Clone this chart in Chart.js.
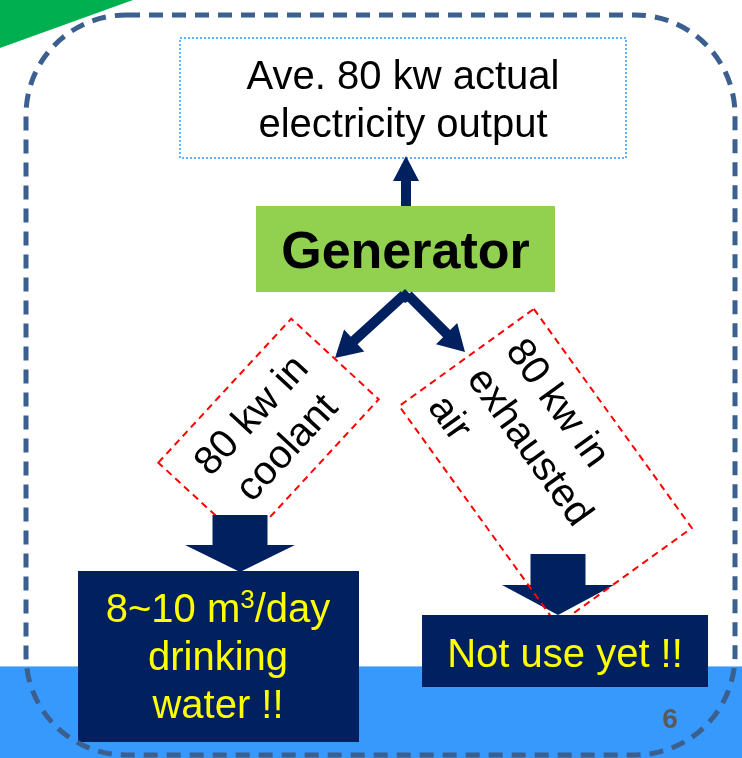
<!DOCTYPE html>
<html>
<head>
<meta charset="utf-8">
<script src="https://cdn.jsdelivr.net/npm/chart.js@4/dist/chart.umd.min.js"></script>
<style>
  html, body { margin: 0; padding: 0; background: #ffffff; }
  #c { display: block; }
</style>
</head>
<body>
<canvas id="c" width="742" height="758"></canvas>
<script>
// ---- Diagram content (text values) ----
const outputText   = ['Ave. 80 kw actual', 'electricity output'];
const generatorText = ['Generator'];
const coolantText  = ['80 kw in', 'coolant'];
const exhaustText  = ['80 kw in', 'exhausted', 'air'];
const waterText    = ['8~10 m', '3', '/day', 'drinking', 'water !!'];
const unusedText   = ['Not use yet !!'];
const pageNumber   = ['6'];

// ---- Layout (positions in the 742 x 758 value space) ----
const L = {
  band: { y0: 666, y1: 758 },
  tri: [[0, 0], [133, 0], [0, 48]],
  border: { x0: 26, y0: 15, x1: 735, y1: 755, r: 100 },
  outBox: { x0: 180, y0: 38, x1: 626, y1: 158 },
  outBase: [89, 137], outCx: 403,
  upArrow: { x: 406, y0: 206, y1: 156 },
  gen: { x0: 256, y0: 206, x1: 555, y1: 292, base: 268 },
  leftArrow: { from: [404, 295], to: [335, 358] },
  rightArrow: { from: [408, 295], to: [465, 352] },
  coolBox: { cx: 268.5, cy: 431, w: 196, h: 119, a: -47.3 },
  exhBox: { cx: 545.5, cy: 467, w: 270, h: 166, a: 54.2 },
  downL: { cx: 240, sw: 55, hw: 110, y0: 515, y1: 545, tip: 572 },
  downR: { cx: 558, sw: 55, hw: 112, y0: 554, y1: 585, tip: 615 },
  waterBox: { x0: 78, y0: 571, x1: 359, y1: 742, cx: 218, base: [622, 670, 718] },
  unusedBox: { x0: 422, y0: 615, x1: 708, y1: 687, cx: 565, base: 667 },
  page: { x: 670, base: 728 }
};

const NAVY = '#002060';
const FONT = '"Liberation Sans", Arial, "DejaVu Sans", sans-serif';

const diagramPlugin = {
  id: 'diagram',
  afterDraw(chart) {
    const ctx = chart.ctx;
    const xs = chart.scales.x, ys = chart.scales.y;
    const X = v => xs.getPixelForValue(v);
    const Y = v => ys.getPixelForValue(v);
    const S = d => X(d) - X(0);

    ctx.save();
    // white background
    ctx.fillStyle = '#ffffff';
    ctx.fillRect(X(0), Y(0), S(742), Y(758) - Y(0));

    // green corner triangle
    ctx.fillStyle = '#00B050';
    ctx.beginPath();
    L.tri.forEach((p, i) => i ? ctx.lineTo(X(p[0]), Y(p[1])) : ctx.moveTo(X(p[0]), Y(p[1])));
    ctx.closePath(); ctx.fill();

    // blue band
    ctx.fillStyle = '#3899FD';
    ctx.fillRect(X(0), Y(L.band.y0), S(742), Y(L.band.y1) - Y(L.band.y0));
    ctx.fillStyle = '#8cc4f7';
    ctx.fillRect(X(0), Y(L.band.y0), S(742), 1);

    // top dotted output box
    const ob = L.outBox;
    ctx.strokeStyle = '#3399FF'; ctx.lineWidth = 1.5; ctx.setLineDash([2, 2]);
    ctx.strokeRect(X(ob.x0), Y(ob.y0), X(ob.x1) - X(ob.x0), Y(ob.y1) - Y(ob.y0));
    ctx.setLineDash([]);
    ctx.fillStyle = '#000'; ctx.font = '40px ' + FONT; ctx.textAlign = 'center'; ctx.textBaseline = 'alphabetic';
    outputText.forEach((t, i) => ctx.fillText(t, X(L.outCx), Y(L.outBase[i])));

    // up arrow
    const ua = L.upArrow;
    ctx.fillStyle = NAVY;
    ctx.fillRect(X(ua.x - 5), Y(180), S(10), Y(ua.y0) - Y(180));
    ctx.beginPath();
    ctx.moveTo(X(ua.x), Y(ua.y1)); ctx.lineTo(X(ua.x + 13), Y(181)); ctx.lineTo(X(ua.x - 13), Y(181));
    ctx.closePath(); ctx.fill();

    // generator box
    const g = L.gen;
    ctx.fillStyle = '#92D050';
    ctx.fillRect(X(g.x0), Y(g.y0), X(g.x1) - X(g.x0), Y(g.y1) - Y(g.y0));
    ctx.fillStyle = '#000'; ctx.font = 'bold 52px ' + FONT;
    ctx.fillText(generatorText[0], X((g.x0 + g.x1) / 2), Y(g.base));

    // diagonal arrow helper
    function arrow(from, to, sw, hw, hl) {
      const fx = X(from[0]), fy = Y(from[1]), tx = X(to[0]), ty = Y(to[1]);
      const dx = tx - fx, dy = ty - fy, len = Math.hypot(dx, dy);
      const ux = dx / len, uy = dy / len, px = -uy, py = ux;
      const bx = tx - ux * hl, by = ty - uy * hl;
      ctx.fillStyle = NAVY;
      ctx.beginPath();
      ctx.moveTo(fx + px * sw / 2, fy + py * sw / 2);
      ctx.lineTo(bx + px * sw / 2, by + py * sw / 2);
      ctx.lineTo(bx + px * hw / 2, by + py * hw / 2);
      ctx.lineTo(tx, ty);
      ctx.lineTo(bx - px * hw / 2, by - py * hw / 2);
      ctx.lineTo(bx - px * sw / 2, by - py * sw / 2);
      ctx.lineTo(fx - px * sw / 2, fy - py * sw / 2);
      ctx.closePath(); ctx.fill();
    }
    arrow(L.leftArrow.from, L.leftArrow.to, 10, 30, 26);
    arrow(L.rightArrow.from, L.rightArrow.to, 10, 30, 26);
    // join at apex
    ctx.beginPath();
    ctx.moveTo(X(397), Y(297)); ctx.lineTo(X(405), Y(289)); ctx.lineTo(X(414), Y(298)); ctx.lineTo(X(405), Y(303));
    ctx.closePath(); ctx.fill();

    // rotated dashed boxes
    function rotBox(b, lines, align, offsets, startX) {
      ctx.save();
      ctx.translate(X(b.cx), Y(b.cy));
      ctx.rotate(b.a * Math.PI / 180);
      ctx.strokeStyle = '#FF0000'; ctx.lineWidth = 2; ctx.setLineDash([7, 5]);
      ctx.strokeRect(-S(b.w) / 2, -S(b.h) / 2, S(b.w), S(b.h));
      ctx.setLineDash([]);
      ctx.fillStyle = '#000'; ctx.font = '40px ' + FONT;
      ctx.textAlign = align; ctx.textBaseline = 'middle';
      lines.forEach((t, i) => ctx.fillText(t, align === 'center' ? 0 : S(startX), S(offsets[i])));
      ctx.restore();
    }

    // down arrow helper
    function down(d) {
      ctx.fillStyle = NAVY;
      ctx.fillRect(X(d.cx - d.sw / 2), Y(d.y0), S(d.sw), Y(d.y1) - Y(d.y0) + 1);
      ctx.beginPath();
      ctx.moveTo(X(d.cx - d.hw / 2), Y(d.y1)); ctx.lineTo(X(d.cx + d.hw / 2), Y(d.y1)); ctx.lineTo(X(d.cx), Y(d.tip));
      ctx.closePath(); ctx.fill();
    }

    rotBox(L.coolBox, coolantText, 'center', [-22, 26], 0);
    down(L.downL);
    down(L.downR);
    rotBox(L.exhBox, exhaustText, 'left', [-46, 2, 50], -118);

    // navy result boxes
    const wb = L.waterBox;
    ctx.fillStyle = NAVY;
    ctx.fillRect(X(wb.x0), Y(wb.y0), X(wb.x1) - X(wb.x0), Y(wb.y1) - Y(wb.y0));
    const ub = L.unusedBox;
    ctx.fillRect(X(ub.x0), Y(ub.y0), X(ub.x1) - X(ub.x0), Y(ub.y1) - Y(ub.y0));

    ctx.fillStyle = '#FFFF00'; ctx.textBaseline = 'alphabetic';
    // first line with superscript
    ctx.font = '40px ' + FONT;
    const w1 = ctx.measureText(waterText[0]).width;
    const w3 = ctx.measureText(waterText[2]).width;
    ctx.font = '26px ' + FONT;
    const w2 = ctx.measureText(waterText[1]).width;
    const total = w1 + w2 + w3;
    let sx = X(wb.cx) - total / 2;
    ctx.textAlign = 'left';
    ctx.font = '40px ' + FONT;
    ctx.fillText(waterText[0], sx, Y(wb.base[0]));
    ctx.font = '26px ' + FONT;
    ctx.fillText(waterText[1], sx + w1, Y(wb.base[0] - 14));
    ctx.font = '40px ' + FONT;
    ctx.fillText(waterText[2], sx + w1 + w2, Y(wb.base[0]));
    ctx.textAlign = 'center';
    ctx.fillText(waterText[3], X(wb.cx), Y(wb.base[1]));
    ctx.fillText(waterText[4], X(wb.cx), Y(wb.base[2]));
    ctx.fillText(unusedText[0], X(ub.cx), Y(ub.base));

    // page number
    ctx.fillStyle = '#5a5a5a'; ctx.font = 'bold 28px ' + FONT;
    ctx.fillText(pageNumber[0], X(L.page.x), Y(L.page.base));

    // dashed rounded border
    const b = L.border;
    ctx.strokeStyle = '#3B5F8E'; ctx.lineWidth = 5; ctx.setLineDash([14, 9]);
    ctx.beginPath();
    ctx.roundRect(X(b.x0), Y(b.y0), X(b.x1) - X(b.x0), Y(b.y1) - Y(b.y0), S(b.r));
    ctx.stroke();
    ctx.setLineDash([]);
    ctx.restore();
  }
};

new Chart(document.getElementById('c'), {
  type: 'scatter',
  data: { datasets: [{ data: [] }] },
  options: {
    responsive: false,
    animation: false,
    devicePixelRatio: 1,
    layout: { padding: 0 },
    plugins: { legend: { display: false }, tooltip: { enabled: false } },
    scales: {
      x: { type: 'linear', min: 0, max: 742, display: false },
      y: { type: 'linear', min: 0, max: 758, reverse: true, display: false }
    }
  },
  plugins: [diagramPlugin]
});
</script>
</body>
</html>
